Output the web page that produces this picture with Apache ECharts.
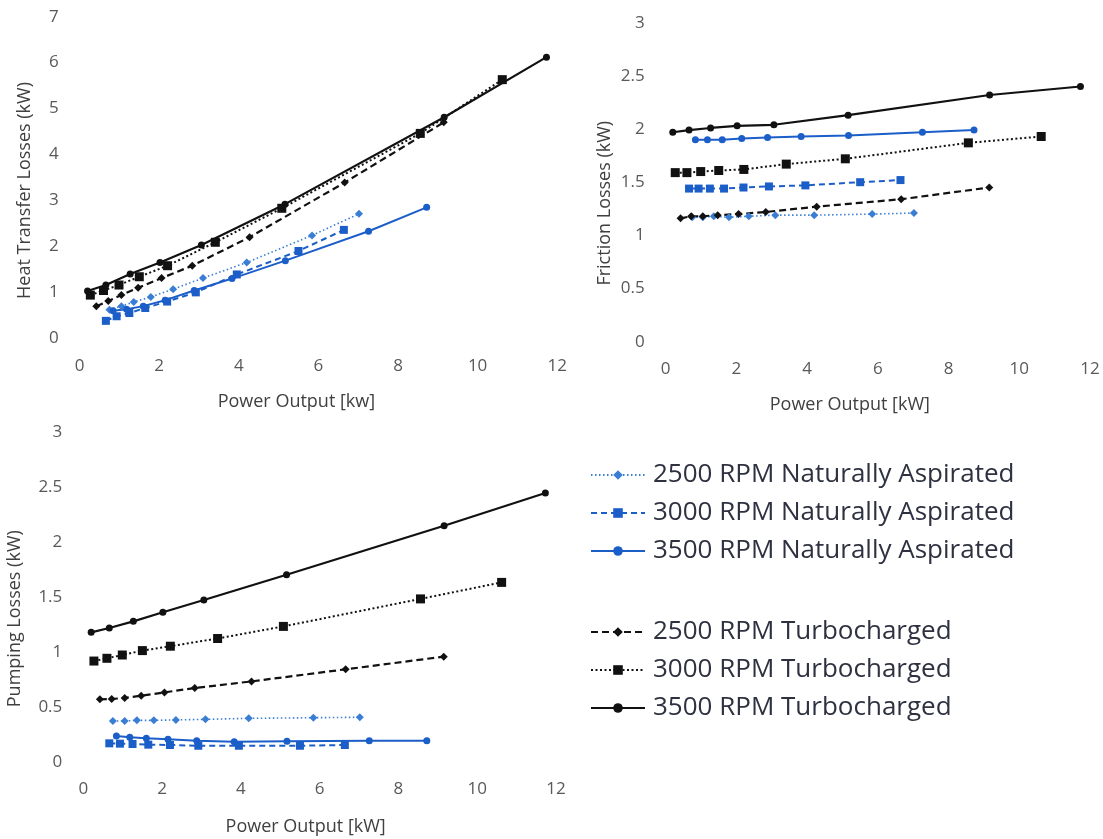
<!DOCTYPE html>
<html><head><meta charset="utf-8">
<script src="https://cdn.jsdelivr.net/npm/echarts@6/dist/echarts.min.js"></script>
<style>html,body{margin:0;padding:0;background:#fff}#c{width:1103px;height:839px}</style>
</head><body><div id="c"></div>
<script>
// ---- data ----
const seriesNames = [
  '2500 RPM Naturally Aspirated',
  '3000 RPM Naturally Aspirated',
  '3500 RPM Naturally Aspirated',
  '2500 RPM Turbocharged',
  '3000 RPM Turbocharged',
  '3500 RPM Turbocharged'
];
const xTickLabels = ['0','2','4','6','8','10','12'];

// power output [kW] per operating point (shared by all three panels)
const x2500NA = [0.75,1.05,1.36,1.79,2.35,3.10,4.20,5.84,7.02];
const x3000NA = [0.66,0.93,1.25,1.65,2.20,2.92,3.95,5.50,6.64];
const x3500NA = [0.84,1.18,1.60,2.15,2.88,3.83,5.17,7.26,8.72];
const x2500TC = [0.42,0.72,1.05,1.47,2.06,2.83,4.27,6.66,9.15];
const x3000TC = [0.27,0.60,0.99,1.50,2.21,3.41,5.08,8.56,10.62];
const x3500TC = [0.20,0.66,1.27,2.02,3.06,5.16,9.16,11.73];

// heat transfer losses [kW]
const heat2500NA = [0.62,0.70,0.79,0.90,1.07,1.31,1.65,2.24,2.71];
const heat3000NA = [0.38,0.48,0.55,0.66,0.80,1.00,1.39,1.90,2.36];
const heat3500NA = [0.60,0.63,0.70,0.83,1.04,1.30,1.69,2.33,2.85];
const heat2500TC = [0.70,0.81,0.94,1.10,1.31,1.58,2.20,3.39,4.70];
const heat3000TC = [0.94,1.04,1.16,1.34,1.58,2.09,2.83,4.46,5.63];
const heat3500TC = [1.03,1.16,1.40,1.65,2.03,2.92,4.81,6.12];

// friction losses [kW]
const fric2500NA = [1.17,1.17,1.18,1.17,1.18,1.19,1.19,1.20,1.21];
const fric3000NA = [1.44,1.44,1.44,1.44,1.45,1.46,1.47,1.50,1.52];
const fric3500NA = [1.90,1.90,1.90,1.91,1.92,1.93,1.94,1.97,1.99];
const fric2500TC = [1.16,1.18,1.18,1.19,1.20,1.22,1.27,1.34,1.45];
const fric3000TC = [1.59,1.59,1.60,1.61,1.62,1.67,1.72,1.87,1.93];
const fric3500TC = [1.97,1.99,2.01,2.03,2.04,2.13,2.32,2.40];

// pumping losses [kW]
const pump2500NA = [0.370,0.370,0.376,0.376,0.380,0.385,0.394,0.400,0.404];
const pump3000NA = [0.167,0.164,0.161,0.155,0.152,0.145,0.145,0.145,0.152];
const pump3500NA = [0.234,0.222,0.213,0.204,0.191,0.182,0.185,0.191,0.191];
const pump2500TC = [0.567,0.570,0.580,0.600,0.630,0.670,0.730,0.840,0.955];
const pump3000TC = [0.915,0.940,0.970,1.010,1.050,1.120,1.230,1.480,1.630];
const pump3500TC = [1.176,1.215,1.276,1.358,1.470,1.700,2.145,2.443];

// ---- chart ----
const FONT = 'Open Sans';
const BLUE = '#1c5ec8', BLUE_L = '#3a7ed4', BLACK = '#111111';
const styles = [
  {color: BLUE_L, type: [1.5, 2.5], width: 1.6, symbol: 'diamond', size: 8},
  {color: BLUE,   type: [6, 4],     width: 2,   symbol: 'rect',    size: 8},
  {color: BLUE,   type: 'solid',    width: 2,   symbol: 'circle',  size: 7},
  {color: BLACK,  type: [7, 4],     width: 2.2, symbol: 'diamond', size: 8},
  {color: BLACK,  type: [2, 2.5],   width: 2,   symbol: 'rect',    size: 9},
  {color: BLACK,  type: 'solid',    width: 2.2, symbol: 'circle',  size: 7}
];
const xs = [x2500NA, x3000NA, x3500NA, x2500TC, x3000TC, x3500TC];
const panels = [
  [heat2500NA, heat3000NA, heat3500NA, heat2500TC, heat3000TC, heat3500TC],
  [fric2500NA, fric3000NA, fric3500NA, fric2500TC, fric3000TC, fric3500TC],
  [pump2500NA, pump3000NA, pump3500NA, pump2500TC, pump3000TC, pump3500TC]
];
const zip = (x, y) => x.map((v, i) => [v, y[i]]);

const series = [];
panels.forEach((arr, g) => arr.forEach((ys, i) => {
  const s = styles[i];
  series.push({
    type: 'line', name: seriesNames[i], xAxisIndex: g, yAxisIndex: g,
    data: zip(xs[i], ys), symbol: s.symbol, symbolSize: s.size,
    showAllSymbol: true,
    lineStyle: {color: s.color, type: s.type, width: s.width},
    itemStyle: {color: s.color},
    emphasis: {disabled: true}, animation: false
  });
}));

const grids = [
  {left: 79.6, top: 16.7, width: 477.6, height: 321.6},
  {left: 665.7, top: 22.7, width: 424.3, height: 319},
  {left: 83.3, top: 431.7, width: 472.7, height: 330}
];
const xNames = ['Power Output [kw]', 'Power Output [kW]', 'Power Output [kW]'];
const xNameGap = [55, 54, 56];
const xNameShift = [44, 56, 28];
const yNames = ['Heat Transfer Losses (kW)', 'Friction Losses (kW)', 'Pumping Losses (kW)'];
const yNameGap = [46, 52, 59];
const yNameShift = [26, 42, 44];
const yMax = [7, 3, 3];
const yInt = [1, 0.5, 0.5];

const labelStyle = {color: '#595959', fontSize: 17, fontFamily: FONT};
const nameStyle = {color: '#404040', fontSize: 18, fontFamily: FONT};

const xAxis = grids.map((g, i) => ({
  type: 'value', gridIndex: i, min: 0, max: 12, interval: 2,
  axisLine: {show: false}, axisTick: {show: false}, splitLine: {show: false},
  axisLabel: Object.assign({margin: 19, formatter: v => xTickLabels[v / 2]}, labelStyle),
  name: xNames[i], nameLocation: 'middle', nameGap: xNameGap[i],
  nameTextStyle: Object.assign({padding: [0, xNameShift[i], 0, 0]}, nameStyle)
}));
const yAxis = grids.map((g, i) => ({
  type: 'value', gridIndex: i, min: 0, max: yMax[i], interval: yInt[i],
  axisLine: {show: false}, axisTick: {show: false}, splitLine: {show: false},
  axisLabel: Object.assign({margin: 21}, labelStyle),
  name: yNames[i], nameLocation: 'middle', nameGap: yNameGap[i],
  nameTextStyle: Object.assign({padding: [0, yNameShift[i], 0, 0]}, nameStyle)
}));

const legendCommon = {
  orient: 'vertical', left: 585, itemWidth: 54, itemHeight: 12, itemGap: 12,
  selectedMode: false,
  textStyle: {color: '#2e3140', fontSize: 26, fontFamily: FONT, lineHeight: 26, padding: [0, 0, 0, 3]}
};

const chart = echarts.init(document.getElementById('c'), null, {renderer: 'canvas'});
chart.setOption({
  backgroundColor: '#ffffff',
  animation: false,
  grid: grids,
  xAxis: xAxis,
  yAxis: yAxis,
  legend: [
    Object.assign({top: 457, data: seriesNames.slice(0, 3)}, legendCommon),
    Object.assign({top: 614, data: seriesNames.slice(3)}, legendCommon)
  ],
  series: series
});
</script>
</body></html>
